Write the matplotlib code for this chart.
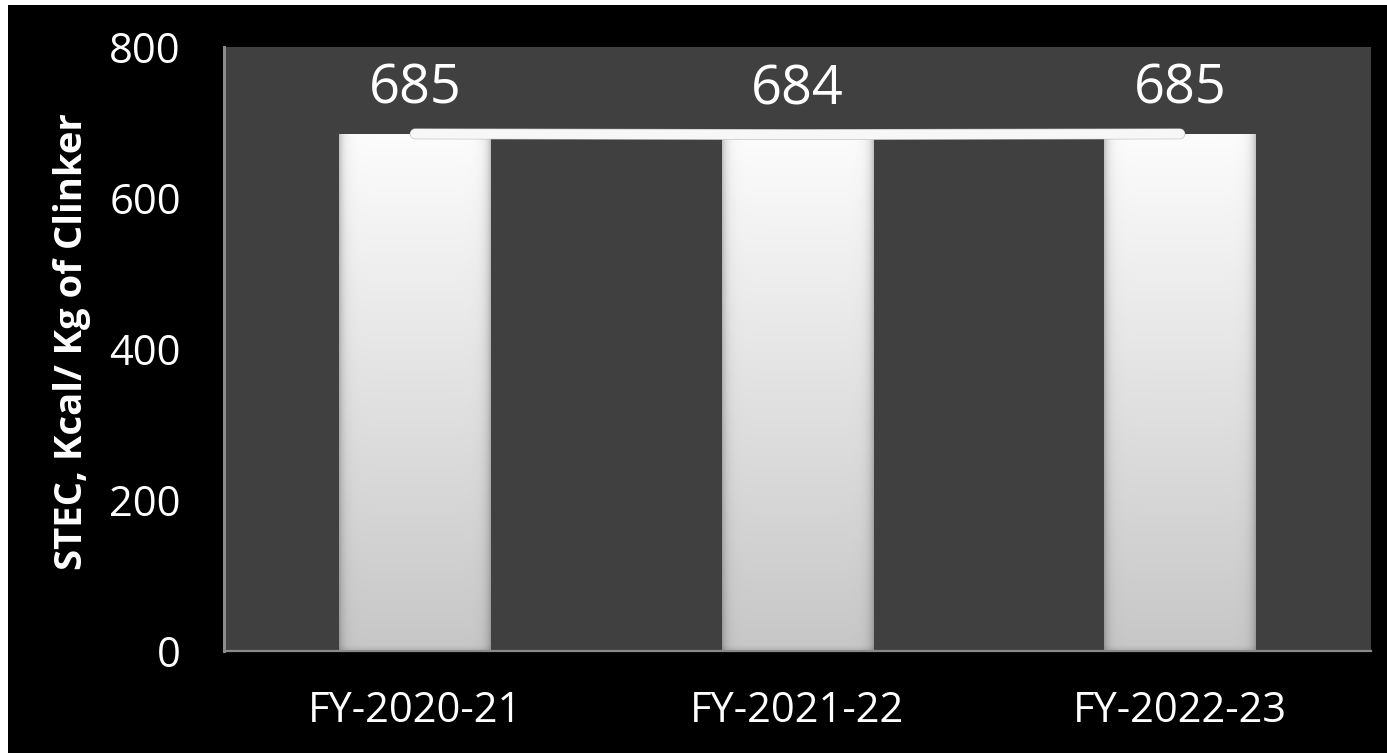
import numpy as np
import matplotlib
matplotlib.use("Agg")
import matplotlib.pyplot as plt
from matplotlib.patches import Rectangle
import matplotlib.patheffects as pe

plt.rcParams['font.family'] = ['Open Sans', 'DejaVu Sans']

years = ["FY-2020-21", "FY-2021-22", "FY-2022-23"]
stec = [685, 684, 685]
yticks = [0, 200, 400, 600, 800]

W, H = 1387, 753
fig = plt.figure(figsize=(W / 100, H / 100), dpi=100, facecolor="black")

# thin white margin along the top and left edges
fig.patches.append(Rectangle((0, 1 - 5 / H), 1, 5 / H, transform=fig.transFigure,
                             facecolor="white", edgecolor="none", zorder=0))
fig.patches.append(Rectangle((0, 0), 8 / W, 1, transform=fig.transFigure,
                             facecolor="white", edgecolor="none", zorder=0))

left, right, top, bottom = 224, 1371, 47, 651
ax = fig.add_axes([left / W, 1 - bottom / H, (right - left) / W, (bottom - top) / H])
ax.set_facecolor("#404040")

x = np.arange(len(years))
bar_w = 0.396
bars = ax.bar(x, stec, width=bar_w, color="none", edgecolor="none", zorder=2)

# shaded fill for each bar: light at the top fading to grey, darker near the sides
ny, nx = 500, 120
vy = np.linspace(1.0, 0.0, ny)[:, None]           # 1 at top, 0 at bottom
vert = 0.99 - 0.21 * (1 - vy)
hx = np.linspace(0, 1, nx)[None, :]
edge = np.minimum(hx, 1 - hx)
side = 1 - 0.22 * np.exp(-edge / 0.03)
shade = vert * side
# narrow bevel at the bottom of the bar
bev = np.ones((ny, 1))
bev[-5:] = np.linspace(0.97, 0.92, 5)[:, None]
shade = shade * bev
img = np.dstack([shade, shade, shade])
for b in bars:
    x0, w, h = b.get_x(), b.get_width(), b.get_height()
    im = ax.imshow(img, extent=(x0, x0 + w, 0, h), aspect="auto",
                   interpolation="bilinear", zorder=2)
    im.set_clip_path(b)

# connecting line across the bar tops
ax.plot(x, stec, color="#f7f7f7", lw=7.0, solid_capstyle="round", zorder=3,
        path_effects=[pe.Stroke(linewidth=7.8, foreground="#b8b8b8"), pe.Normal()])

for xi, v in zip(x, stec):
    ax.annotate(f"{v}", (xi, v), xytext=(0, 22), textcoords="offset points",
                ha="center", va="baseline", color="white", fontsize=39, zorder=4)

ax.set_xlim(-0.5, len(years) - 0.5)
ax.set_ylim(0, 800)
ax.set_yticks(yticks)
ax.set_yticklabels([str(t) for t in yticks])
ax.set_xticks(x)
ax.set_xticklabels(years)
ax.tick_params(axis="y", length=0, pad=31, labelsize=30, labelcolor="white")
ax.tick_params(axis="x", length=0, pad=28, labelsize=30, labelcolor="white")

for s in ("top", "right"):
    ax.spines[s].set_visible(False)
ax.spines["left"].set_color("#8a8a8a")
ax.spines["left"].set_linewidth(2.2)
ax.spines["bottom"].set_color("#8a8a8a")
ax.spines["bottom"].set_linewidth(1.6)

fig.text(72 / W, 1 - 342 / H, "STEC, Kcal/ Kg of Clinker", rotation=90,
         ha="center", va="center", color="white", fontsize=27.5, fontweight="bold")

fig.savefig("out.png", dpi=100, facecolor="black")
